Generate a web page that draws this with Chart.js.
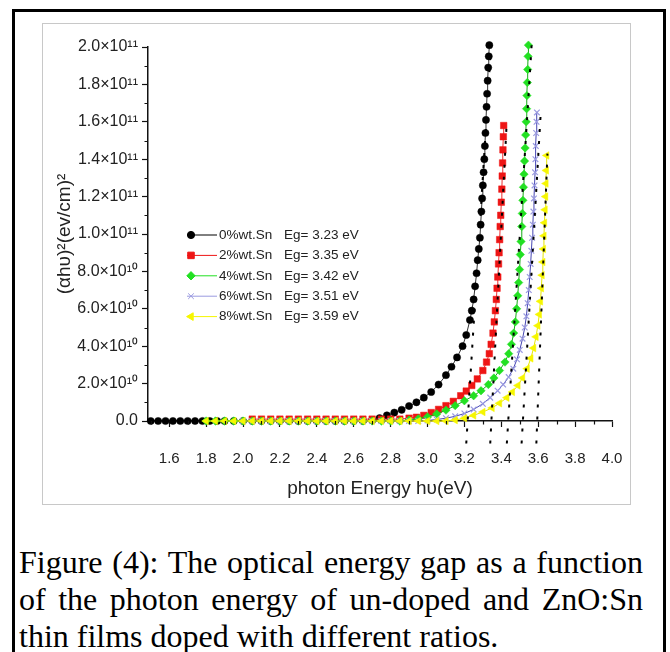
<!DOCTYPE html>
<html>
<head>
<meta charset="utf-8">
<script src="https://cdn.jsdelivr.net/npm/chart.js@4.4.0/dist/chart.umd.min.js"></script>
<style>
  html, body { margin: 0; padding: 0; background: #fff; }
  body { width: 670px; height: 652px; position: relative; overflow: hidden; }
  .frame { position: absolute; left: 12px; top: 9px; width: 654px; height: 700px; border: 3px solid #000; box-sizing: border-box; }
  .plot-box { position: absolute; left: 42px; top: 23px; width: 589px; height: 482px; border: 1.5px solid #c8c8c8; box-sizing: border-box; }
  .chart-wrap { position: absolute; left: 44px; top: 25px; width: 585px; height: 479px; }
  .caption { position: absolute; left: 19px; top: 544px; width: 624px; font-family: "Liberation Serif", "Times New Roman", serif; font-size: 32px; line-height: 37px; color: #000; }
  .caption div { text-align: justify; text-align-last: justify; white-space: nowrap; }
  .caption div.last { text-align: left; text-align-last: left; }
</style>
</head>
<body>
<div class="frame"></div>
<div class="plot-box"></div>
<div class="chart-wrap"><canvas id="gapChart" width="585" height="479"></canvas></div>
<div class="caption">
  <div>Figure (4): The optical energy gap as a function</div>
  <div>of the photon energy of un-doped and ZnO:Sn</div>
  <div class="last">thin films doped with different ratios.</div>
</div>
<script>
// photon energy (eV) and (ahv)^2
const energy0 = [1.50, 1.54, 1.58, 1.62, 1.66, 1.70, 1.74, 1.78, 1.82, 1.86, 1.90, 1.95, 2.00, 2.05, 2.10, 2.15, 2.20, 2.25, 2.30, 2.35, 2.40, 2.45, 2.50, 2.55, 2.60, 2.65, 2.70, 2.74, 2.78, 2.82, 2.86, 2.90, 2.94, 2.98, 3.02, 3.06, 3.10, 3.13, 3.16, 3.19, 3.21, 3.23, 3.24, 3.25, 3.258, 3.266, 3.272, 3.278, 3.284, 3.288, 3.292, 3.296, 3.300, 3.304, 3.308, 3.311, 3.314, 3.317, 3.320, 3.323, 3.326, 3.329, 3.332, 3.335];
const alpha0 = [0, 0, 0, 0, 0, 0, 0, 0, 0, 0, 0, 0, 0, 0, 0, 0, 0, 0, 0, 0, 0, 0, 0, 0, 0, 0, 0.05e10, 0.15e10, 0.3e10, 0.45e10, 0.6e10, 0.8e10, 1.0e10, 1.25e10, 1.55e10, 1.95e10, 2.45e10, 2.9e10, 3.4e10, 4.0e10, 4.6e10, 5.4e10, 5.9e10, 6.5e10, 7.2e10, 7.9e10, 8.6e10, 9.2e10, 9.8e10, 1.05e11, 1.12e11, 1.19e11, 1.26e11, 1.33e11, 1.40e11, 1.47e11, 1.54e11, 1.61e11, 1.68e11, 1.75e11, 1.82e11, 1.89e11, 1.95e11, 2.01e11];

const energy2 = [2.05, 2.10, 2.15, 2.20, 2.25, 2.30, 2.35, 2.40, 2.45, 2.50, 2.55, 2.60, 2.65, 2.70, 2.75, 2.80, 2.85, 2.90, 2.94, 2.98, 3.02, 3.06, 3.10, 3.14, 3.18, 3.21, 3.24, 3.27, 3.30, 3.32, 3.335, 3.345, 3.355, 3.362, 3.368, 3.373, 3.377, 3.381, 3.385, 3.388, 3.391, 3.394, 3.397, 3.400, 3.403, 3.405, 3.407, 3.409, 3.411, 3.413];
const alpha2 = [0.1e10, 0.1e10, 0.1e10, 0.1e10, 0.1e10, 0.1e10, 0.1e10, 0.1e10, 0.1e10, 0.1e10, 0.1e10, 0.1e10, 0.1e10, 0.1e10, 0.1e10, 0.1e10, 0.1e10, 0.15e10, 0.2e10, 0.3e10, 0.45e10, 0.62e10, 0.82e10, 1.05e10, 1.35e10, 1.6e10, 1.9e10, 2.25e10, 2.7e10, 3.15e10, 3.6e10, 4.1e10, 4.7e10, 5.3e10, 5.9e10, 6.5e10, 7.1e10, 7.7e10, 8.4e10, 9.0e10, 9.7e10, 1.04e11, 1.10e11, 1.17e11, 1.24e11, 1.31e11, 1.38e11, 1.45e11, 1.52e11, 1.58e11];

const energy4 = [1.80, 1.85, 1.90, 1.95, 2.00, 2.05, 2.10, 2.15, 2.20, 2.25, 2.30, 2.35, 2.40, 2.45, 2.50, 2.55, 2.60, 2.65, 2.70, 2.75, 2.80, 2.85, 2.90, 2.95, 3.00, 3.05, 3.10, 3.15, 3.20, 3.25, 3.29, 3.33, 3.36, 3.39, 3.42, 3.44, 3.455, 3.467, 3.476, 3.483, 3.489, 3.494, 3.499, 3.503, 3.507, 3.511, 3.514, 3.517, 3.520, 3.523, 3.526, 3.529, 3.532, 3.535, 3.537, 3.539, 3.541, 3.543, 3.545, 3.547];
const alpha4 = [0, 0, 0, 0, 0, 0, 0, 0, 0, 0, 0, 0, 0, 0, 0, 0, 0, 0, 0, 0, 0, 0, 0.05e10, 0.12e10, 0.22e10, 0.38e10, 0.58e10, 0.82e10, 1.08e10, 1.35e10, 1.62e10, 1.95e10, 2.3e10, 2.7e10, 3.15e10, 3.6e10, 4.1e10, 4.7e10, 5.3e10, 6.0e10, 6.7e10, 7.4e10, 8.1e10, 8.9e10, 9.6e10, 1.04e11, 1.11e11, 1.18e11, 1.25e11, 1.32e11, 1.39e11, 1.46e11, 1.53e11, 1.60e11, 1.67e11, 1.74e11, 1.81e11, 1.88e11, 1.95e11, 2.01e11];

const energy6 = [2.00, 2.05, 2.10, 2.15, 2.20, 2.25, 2.30, 2.35, 2.40, 2.45, 2.50, 2.55, 2.60, 2.65, 2.70, 2.75, 2.80, 2.85, 2.90, 2.95, 3.00, 3.05, 3.10, 3.15, 3.20, 3.25, 3.30, 3.34, 3.38, 3.41, 3.44, 3.465, 3.485, 3.50, 3.515, 3.527, 3.536, 3.543, 3.549, 3.554, 3.559, 3.563, 3.567, 3.571, 3.574, 3.577, 3.580, 3.583, 3.585, 3.587, 3.589, 3.591, 3.593];
const alpha6 = [0, 0, 0, 0, 0, 0, 0, 0, 0, 0, 0, 0, 0, 0, 0, 0, 0, 0, 0, 0, 0.03e10, 0.08e10, 0.15e10, 0.25e10, 0.4e10, 0.62e10, 0.92e10, 1.25e10, 1.62e10, 1.95e10, 2.35e10, 2.8e10, 3.3e10, 3.8e10, 4.4e10, 5.0e10, 5.6e10, 6.3e10, 7.0e10, 7.7e10, 8.4e10, 9.1e10, 9.8e10, 1.05e11, 1.12e11, 1.19e11, 1.26e11, 1.33e11, 1.40e11, 1.47e11, 1.54e11, 1.60e11, 1.65e11];

const energy8 = [1.80, 1.85, 1.90, 1.95, 2.00, 2.05, 2.10, 2.15, 2.20, 2.25, 2.30, 2.35, 2.40, 2.45, 2.50, 2.55, 2.60, 2.65, 2.70, 2.75, 2.80, 2.85, 2.90, 2.95, 3.00, 3.05, 3.10, 3.15, 3.20, 3.25, 3.30, 3.35, 3.39, 3.43, 3.46, 3.49, 3.515, 3.54, 3.56, 3.575, 3.588, 3.598, 3.606, 3.612, 3.617, 3.621, 3.625, 3.628, 3.631, 3.634, 3.637, 3.640, 3.642, 3.644, 3.646];
const alpha8 = [0, 0, 0, 0, 0, 0, 0, 0, 0, 0, 0, 0, 0, 0, 0, 0, 0, 0, 0, 0, 0, 0, 0, 0, 0, 0, 0, 0.05e10, 0.15e10, 0.3e10, 0.48e10, 0.7e10, 0.95e10, 1.25e10, 1.55e10, 1.9e10, 2.3e10, 2.8e10, 3.35e10, 3.9e10, 4.5e10, 5.1e10, 5.7e10, 6.4e10, 7.1e10, 7.8e10, 8.5e10, 9.2e10, 9.9e10, 1.06e11, 1.13e11, 1.20e11, 1.27e11, 1.34e11, 1.42e11];

// dotted tangent lines (extrapolation to the energy axis)
const tangentBottomE = [3.21, 3.34, 3.43, 3.51, 3.59];
const tangentBottomY = [-1.2e10, -1.2e10, -1.2e10, -1.2e10, -1.2e10];
const tangentTopE = [3.345, 3.43, 3.565, 3.615, 3.65];
const tangentTopY = [2.02e11, 1.61e11, 2.02e11, 1.67e11, 1.43e11];

const seriesNames = ['0%wt.Sn', '2%wt.Sn', '4%wt.Sn', '6%wt.Sn', '8%wt.Sn'];
const gapLabels = ['Eg= 3.23 eV', 'Eg= 3.35 eV', 'Eg= 3.42 eV', 'Eg= 3.51 eV', 'Eg= 3.59 eV'];

const xTicks = [1.6, 1.8, 2.0, 2.2, 2.4, 2.6, 2.8, 3.0, 3.2, 3.4, 3.6, 3.8, 4.0];
const yTicks = [0, 2e10, 4e10, 6e10, 8e10, 1e11, 1.2e11, 1.4e11, 1.6e11, 1.8e11, 2e11];

const energies = [energy0, energy2, energy4, energy6, energy8];
const alphas = [alpha0, alpha2, alpha4, alpha6, alpha8];

// marker / line styles per series
const styles = [
  { marker: '#000000', line: '#333333', pointStyle: 'circle', radius: 3.6, rotation: 0 },
  { marker: '#ee1515', line: '#ee3030', pointStyle: 'rect', radius: 4.6, rotation: 0 },
  { marker: '#22e022', line: '#18a818', pointStyle: 'rectRot', radius: 4.2, rotation: 0 },
  { marker: '#9a9ae0', line: '#4646b4', pointStyle: 'crossRot', radius: 4, rotation: 0 },
  { marker: '#f6f600', line: '#e6e600', pointStyle: 'triangle', radius: 4.4, rotation: -90 },
];

const supDigits = ['⁰', '¹', '²', '³', '⁴', '⁵', '⁶', '⁷', '⁸', '⁹'];
function sciLabel(v) {
  if (Math.abs(v) < 1) return '0.0';
  const exp = Math.floor(Math.log10(v) + 1e-9);
  const mant = v / Math.pow(10, exp);
  const sup = String(exp).split('').map(d => supDigits[+d]).join('');
  return mant.toFixed(1) + '×10' + sup;
}

let datasets = [];
for (let i = 0; i < energies.length; i++) {
  const s = styles[i];
  datasets.push({
    label: seriesNames[i],
    data: energies[i].map((e, k) => ({ x: e, y: alphas[i][k] })),
    showLine: true,
    borderColor: s.line,
    borderWidth: 1,
    backgroundColor: s.marker,
    pointBackgroundColor: s.marker,
    pointBorderColor: s.marker,
    pointBorderWidth: s.pointStyle == 'crossRot' ? 1.2 : 0.5,
    pointStyle: s.pointStyle,
    pointRotation: s.rotation,
    pointRadius: s.radius,
    clip: false,
    order: 10 - i,
  });
}
for (let i = 0; i < tangentTopE.length; i++) {
  datasets.push({
    label: 'tangent ' + i,
    data: [{ x: tangentBottomE[i], y: tangentBottomY[i] }, { x: tangentTopE[i], y: tangentTopY[i] }],
    showLine: true,
    borderColor: '#000',
    borderWidth: 2,
    borderDash: [3, 9],
    pointRadius: 0,
    clip: false,
    order: 0,
  });
}

const extrasPlugin = {
  id: 'extras',
  afterDraw(chart) {
    const ctx = chart.ctx;
    const xs = chart.scales.x;
    const ys = chart.scales.y;
    const area = chart.chartArea;

    // minor ticks
    ctx.save();
    ctx.strokeStyle = '#111';
    ctx.lineWidth = 1.2;
    ctx.beginPath();
    xTicks.map(v => v - 0.1).forEach(v => {
      const px = Math.round(xs.getPixelForValue(v)) + 0.5;
      ctx.moveTo(px, area.bottom);
      ctx.lineTo(px, area.bottom + 3.5);
    });
    yTicks.slice(1).map(v => v - 1e10).forEach(v => {
      const py = Math.round(ys.getPixelForValue(v)) + 0.5;
      ctx.moveTo(area.left, py);
      ctx.lineTo(area.left - 3.5, py);
    });
    ctx.stroke();

    // legend inside the plot
    ctx.font = '13.5px "Liberation Sans", Arial, sans-serif';
    ctx.textBaseline = 'middle';
    for (let i = 0; i < seriesNames.length; i++) {
      const s = styles[i];
      const y = area.top + 188 + i * 20.4;
      const x0 = area.left + 39;
      ctx.strokeStyle = s.marker;
      ctx.lineWidth = 1;
      ctx.beginPath();
      ctx.moveTo(x0, y);
      ctx.lineTo(x0 + 30, y);
      ctx.stroke();
      ctx.fillStyle = s.marker;
      Chart.helpers.drawPoint(ctx, {
        pointStyle: s.pointStyle,
        rotation: s.rotation,
        radius: s.radius,
        borderWidth: s.pointStyle == 'crossRot' ? 1.2 : 0.5,
      }, x0 + 4, y);
      ctx.fillStyle = '#222';
      ctx.fillText(seriesNames[i], area.left + 71, y);
      ctx.fillText(gapLabels[i], area.left + 136, y);
    }
    ctx.restore();
  },
};

const axisFont = { family: '"Liberation Sans", Arial, sans-serif', size: 15 };
const yTickFont = { family: '"Liberation Sans", Arial, sans-serif', size: 16 };
const titleFont = { family: '"Liberation Sans", Arial, sans-serif', size: 19 };

new Chart(document.getElementById('gapChart').getContext('2d'), {
  type: 'scatter',
  data: { datasets: datasets },
  plugins: [extrasPlugin],
  options: {
    responsive: false,
    animation: false,
    layout: { padding: { top: 22, right: 17, left: 0, bottom: 0 } },
    plugins: {
      legend: { display: false },
      tooltip: { enabled: false },
    },
    scales: {
      x: {
        type: 'linear',
        min: 1.485,
        max: 4.0,
        afterBuildTicks: scale => { scale.ticks = xTicks.map(v => ({ value: v })); },
        afterFit: scale => {
          scale.height = 83;
          scale.paddingLeft = 0;
          scale.paddingRight = 11;
        },
        ticks: {
          autoSkip: false,
          maxRotation: 0,
          color: '#222',
          font: axisFont,
          padding: 23,
          callback: v => Number(v).toFixed(1),
        },
        grid: { drawOnChartArea: false, drawTicks: true, tickLength: 6, tickColor: '#111', tickWidth: 1.2 },
        border: { display: true, color: '#111', width: 1.5 },
        title: { display: true, text: 'photon Energy hυ(eV)', color: '#222', font: titleFont, padding: { top: 0, bottom: 4 } },
      },
      y: {
        type: 'linear',
        min: 0,
        max: 2e11,
        afterBuildTicks: scale => { scale.ticks = yTicks.map(v => ({ value: v })); },
        afterFit: scale => { scale.width = 104; },
        ticks: {
          autoSkip: false,
          color: '#222',
          font: yTickFont,
          padding: 4,
          callback: v => sciLabel(v),
        },
        grid: { drawOnChartArea: false, drawTicks: true, tickLength: 6, tickColor: '#111', tickWidth: 1.2 },
        border: { display: true, color: '#111', width: 1.5 },
        title: { display: true, text: '(αhυ)²(ev/cm)²', color: '#222', font: titleFont, padding: { top: 9, bottom: 0 } },
      },
    },
  },
});
</script>
</body>
</html>
